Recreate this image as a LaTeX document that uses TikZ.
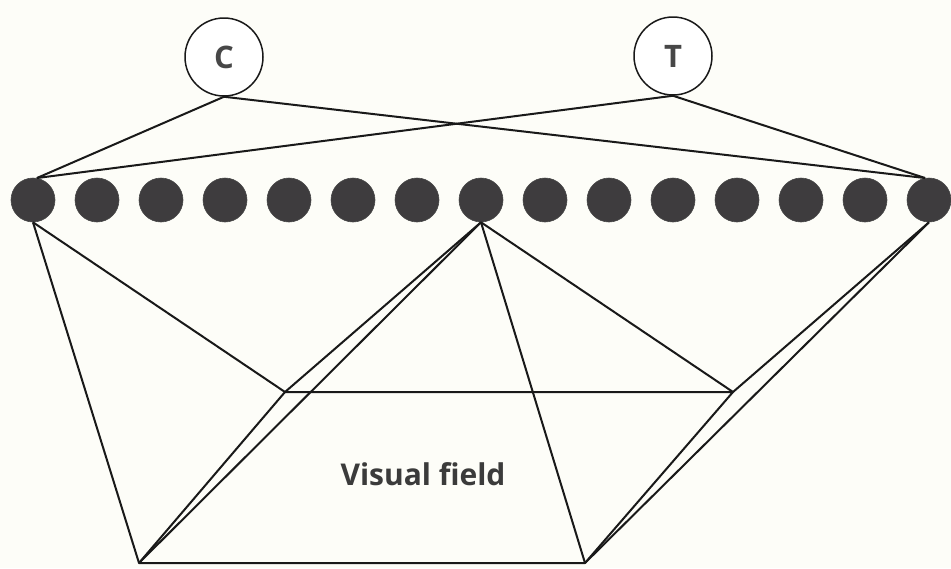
\documentclass[tikz,border=0pt]{standalone}
\usepackage{fontspec}
\newfontfamily\labfont{Open Sans}
\definecolor{bgc}{RGB}{253,253,248}
\definecolor{dotc}{RGB}{62,60,62}
\definecolor{inkc}{RGB}{25,25,25}
\begin{document}
\begin{tikzpicture}[x=1pt,y=-1pt,
  wire/.style={draw=inkc,line width=2pt},
  unit/.style={circle,draw=inkc,line width=1.5pt,minimum size=78pt,inner sep=0pt,fill=white,font=\labfont\bfseries\fontsize{31}{34}\selectfont,text=inkc!80},
  cell/.style={circle,draw=inkc!80,line width=0.6pt,fill=dotc,minimum size=44pt,inner sep=0pt}]
\fill[bgc] (0,0) rectangle (951,568);
\useasboundingbox (0,0) rectangle (951,568);
% trapezoid corners
\coordinate (tl) at (285,392);
\coordinate (tr) at (733,392);
\coordinate (bl) at (139,563);
\coordinate (br) at (585,563);
% top units
\node[unit] (C) at (224,57) {C};
\node[unit] (T) at (673,56) {T};
% row of cells
\foreach \i in {0,...,14}{
  \node[cell] (d\i) at ({33+64*\i},200) {};
}
% top connections
\draw[wire] (C.south) -- (d0.80);
\draw[wire] (C.south) -- (d14.100);
\draw[wire] (T.south) -- (d0.80);
\draw[wire] (T.south) -- (d14.100);
% bottom connections
\draw[wire] (d0.south) -- (tl);
\draw[wire] (d0.south) -- (bl);
\draw[wire] (d7.south) -- (tl);
\draw[wire] (d7.south) -- (bl);
\draw[wire] (d7.south) -- (tr);
\draw[wire] (d7.south) -- (br);
\draw[wire] (d14.south) -- (tr);
\draw[wire] (d14.south) -- (br);
% visual field
\draw[wire,line join=round] (tl) -- (tr) -- (br) -- (bl) -- cycle;
\node[font=\labfont\bfseries\fontsize{30}{34}\selectfont,text=inkc!85] (vf) at (423,474) {Visual field};
\end{tikzpicture}
\end{document}
